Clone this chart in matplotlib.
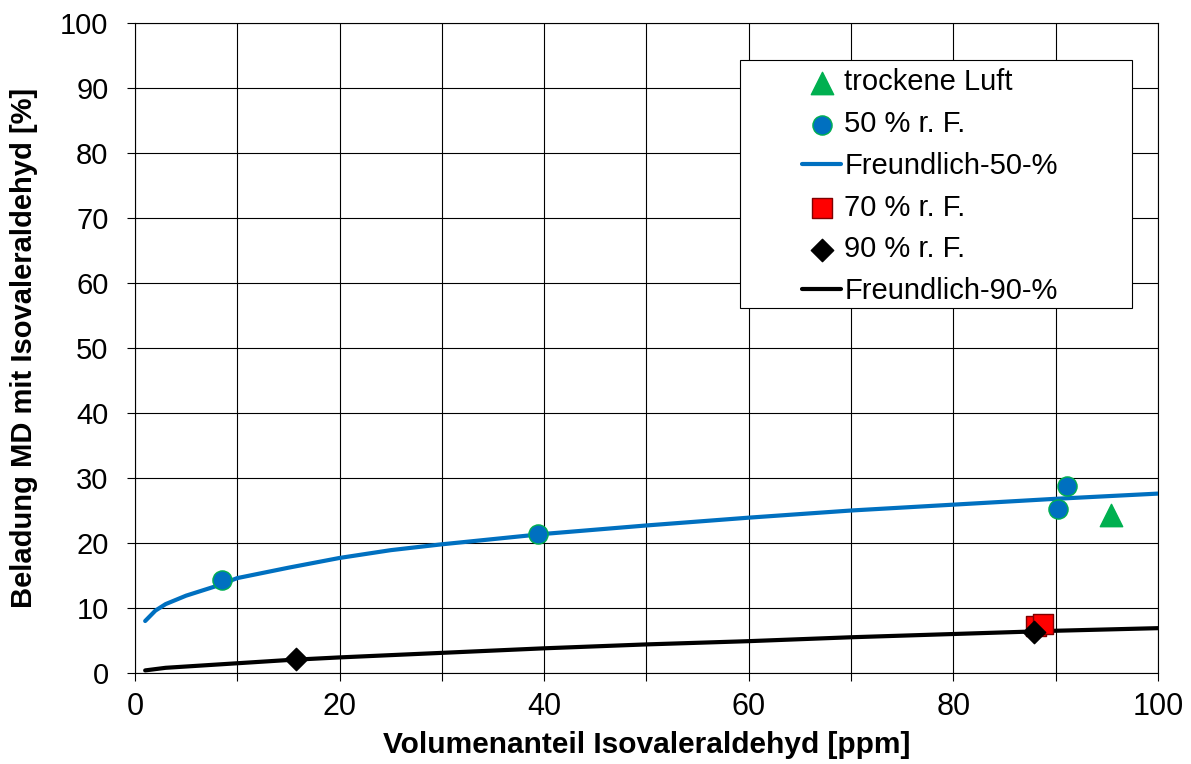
import matplotlib.pyplot as plt
from matplotlib.patches import Rectangle
from matplotlib import font_manager

# measured loadings
dry_x = [95.4]
dry_y = [24.3]

rh50_x = [8.5, 39.4, 90.2, 91.1]
rh50_y = [14.3, 21.4, 25.3, 28.7]

rh70_x = [88.1, 88.8]
rh70_y = [7.2, 7.6]

rh90_x = [15.7, 87.9]
rh90_y = [2.2, 6.3]

# Freundlich isotherms
fr50_x = [1, 2, 3, 5, 8, 10, 15, 20, 25, 30, 40, 50, 60, 70, 80, 90, 100]
fr50_y = [8.0, 9.6, 10.6, 11.9, 13.4, 14.6, 16.2, 17.7, 18.9, 19.8, 21.4, 22.7, 23.9, 25.0, 25.9, 26.8, 27.6]

fr90_x = [1, 3, 5, 10, 15, 20, 30, 40, 50, 60, 70, 80, 90, 100]
fr90_y = [0.4, 0.8, 1.0, 1.5, 2.0, 2.4, 3.1, 3.8, 4.4, 4.9, 5.5, 6.0, 6.5, 6.9]

plt.rcParams['font.family'] = ['Liberation Sans', 'DejaVu Sans']
names = {f.name for f in font_manager.fontManager.ttflist}
narrow = 'Liberation Sans Narrow' if 'Liberation Sans Narrow' in names else 'Liberation Sans'

fig = plt.figure(figsize=(11.91, 7.64), dpi=100)
ax = fig.add_axes([0.1133, 0.1191, 0.859, 0.8508])

ax.plot(fr50_x, fr50_y, color='#0070C0', lw=3, solid_capstyle='round', zorder=3,
        label='Freundlich-50-%')
ax.plot(fr90_x, fr90_y, color='black', lw=3, solid_capstyle='round', zorder=3,
        label='Freundlich-90-%')
ax.scatter(dry_x, dry_y, marker='^', s=260, color='#00B050', zorder=4, label='trockene Luft')
ax.scatter(rh50_x, rh50_y, marker='o', s=190, color='#0070C0', edgecolors='#00B050',
           linewidths=1, zorder=4, label='50 % r. F.')
ax.scatter(rh70_x, rh70_y, marker='s', s=190, color='#FF0000', edgecolors='#7F0000',
           linewidths=1, zorder=4, label='70 % r. F.')
ax.scatter(rh90_x, rh90_y, marker='D', s=130, color='black', zorder=5, label='90 % r. F.')

ax.set_xlim(0, 100)
ax.set_ylim(0, 100)
ax.set_xticks(range(0, 101, 10), minor=True)
ax.set_xticks(range(0, 101, 20))
ax.set_yticks(range(0, 101, 10))
ax.grid(True, which='both', color='black', lw=0.8)
ax.tick_params(which='both', direction='out', length=6, width=0.8)
ax.tick_params(axis='x', pad=8, labelsize=22)
ax.tick_params(axis='y', pad=13, labelsize=21)
for lab in ax.get_xticklabels():
    lab.set_family(narrow)
for s in ax.spines.values():
    s.set_linewidth(0.8)

ax.set_xlabel('Volumenanteil Isovaleraldehyd [ppm]', fontsize=21.5, fontweight='bold',
              family=narrow, labelpad=6)
ax.set_ylabel('Beladung MD mit Isovaleraldehyd [%]', fontsize=21, fontweight='bold',
              family=narrow, labelpad=16)

# legend box drawn separately so the entries can sit inset from its left edge
ax.add_patch(Rectangle((0.591, 0.5615), 0.384, 0.3815, transform=ax.transAxes,
                       facecolor='white', edgecolor='black', lw=0.8, zorder=6))

handles, labels = ax.get_legend_handles_labels()
order = ['trockene Luft', '50 % r. F.', 'Freundlich-50-%', '70 % r. F.', '90 % r. F.', 'Freundlich-90-%']
hmap = dict(zip(labels, handles))
leg = ax.legend([hmap[l] for l in order], order, loc='upper left',
                bbox_to_anchor=(0.652, 0.930), fontsize=21, frameon=False,
                handlelength=1.35, handletextpad=0.1, labelspacing=0.47,
                borderpad=0, borderaxespad=0)
leg.set_zorder(7)

fig.savefig('out.png', dpi=100)
